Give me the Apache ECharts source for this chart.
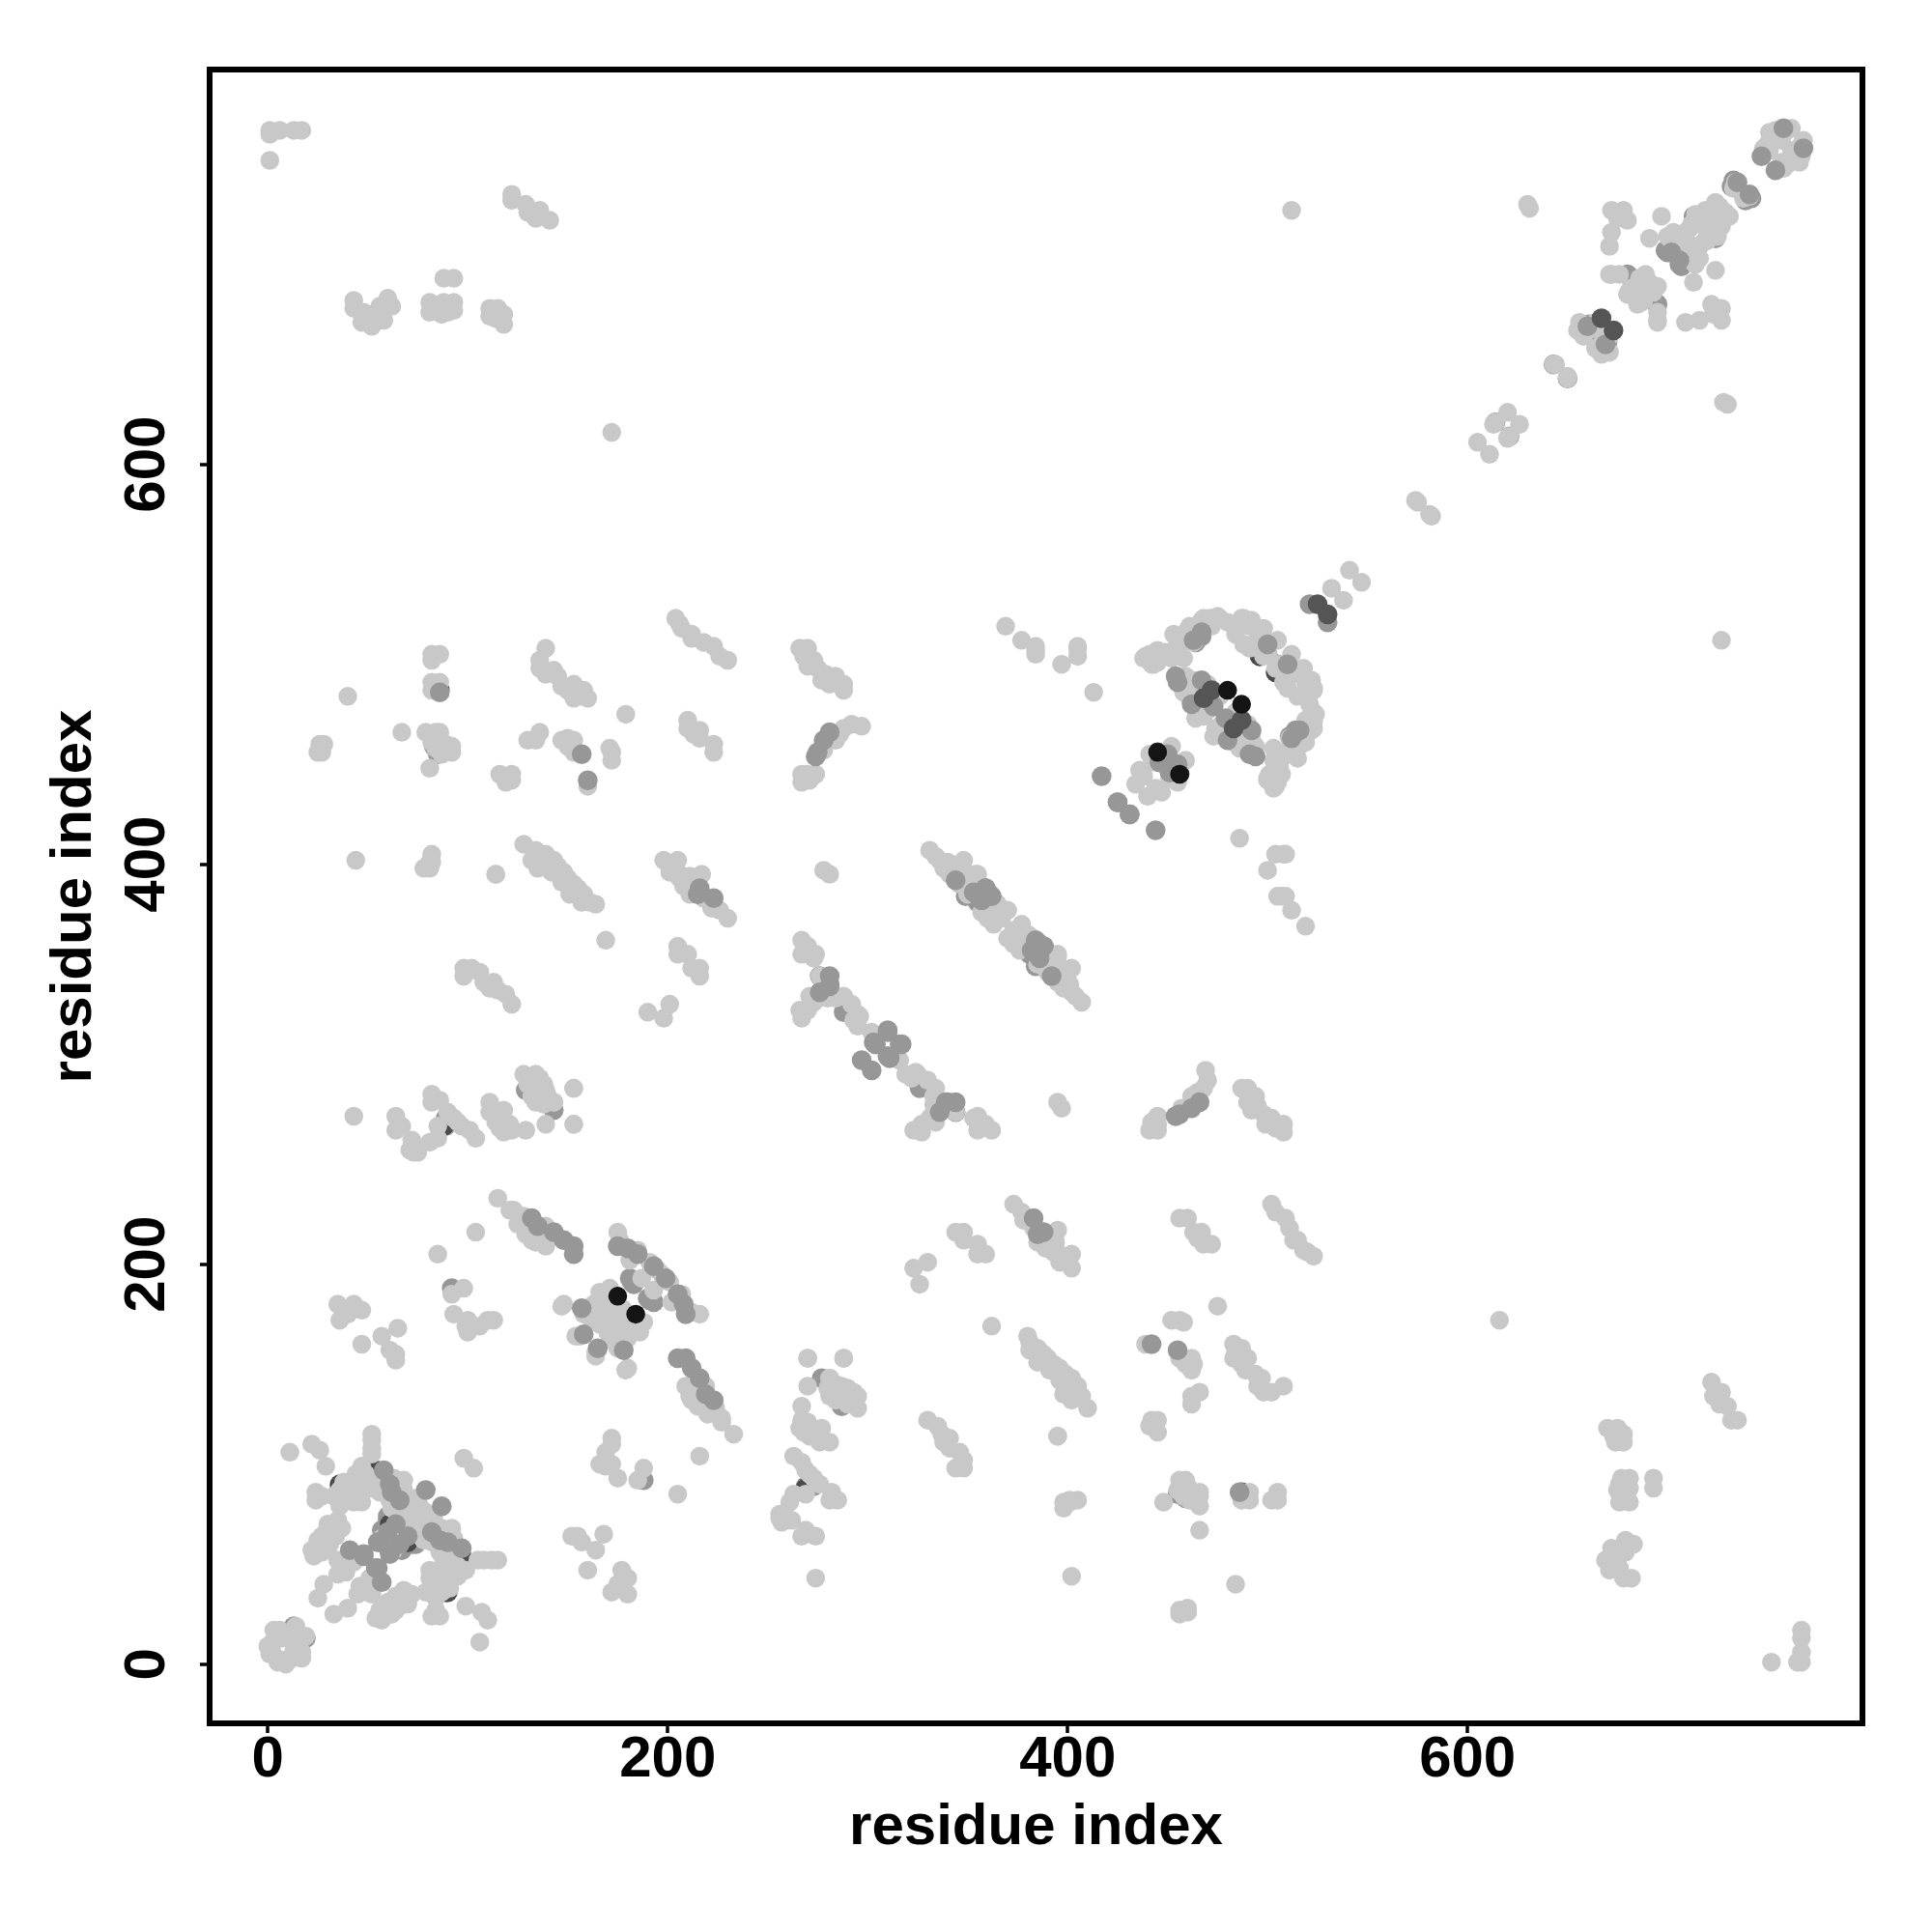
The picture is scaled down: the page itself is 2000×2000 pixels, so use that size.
<!DOCTYPE html>
<html><head><meta charset="utf-8">
<style>html,body{margin:0;padding:0;background:#fff}#c{width:2000px;height:2000px}</style>
<script src="https://cdn.jsdelivr.net/npm/echarts@6/dist/echarts.min.js"></script>
</head><body><div id="c"></div>
<script>
// Residue-residue contacts [i, j] with i < j. A contact map shows each pair at (i,j) and (j,i).
const tickValues = [0, 200, 400, 600];
const xTitle = 'residue index';
const yTitle = 'residue index';

const darkUnder = [[36,90],[36,89],[61,70],[70,81],[54,97],[53,97],[445,456],[496,504],[467,475],[88,269],[86,487]];
const midUnder = [[13,19],[36,85],[37,88],[58,87],[62,84],[66,80],[60,72],[64,74],[57,67],[60,74],[92,188],[88,269],[89,273],[129,287],[138,281],[143,277],[182,191],[183,190],[181,193],
 [83,459],[85,455],[467,516],[463,512],[500,510],[511,464],[514,467],[500,505],[481,470],[466,478],[461,484],
 [521,530],[614,621],[643,650],[680,695],[681,694],[660,666],[661,670],[699,707],[700,706],[714,722],[713,724],[715,723],[732,739],[733,742],
 [341,400],[345,393],[349,384],[355,381],[359,386],[363,381],[381,359],[385,361],[389,357],[394,346],[276,344],[281,340],[288,326],[269,88],[89,269]];
const light = [
 [2,7],[3,17],[14,19],[3,12],[8,14],[0,9],[1,5],[10,15],[6,17],[7,13],
 [11,106],[22,110],[26,107],[29,99],[52,115],[52,112],[52,108],[52,105],[98,103],[24,86],[24,82],[27,84],
 [33,84],[39,82],[45,84],[47,99],[44,94],[47,91],[42,91],[40,86],[44,86],[36,87],[38,91],
 [53,91],[58,86],[61,82],[64,77],[63,93],[68,92],[71,80],[74,83],[76,79],[57,91],[60,88],[66,84],[68,87],[72,76],[70,74],[67,71],[65,73],[62,78],
 [60,66],[57,63],[66,71],[44,95],[49,95],[52,88],[44,87],[43,81],[47,81],[36,79],[40,83],[50,90],[46,90],[56,86],
 [23,54],[24,58],[25,62],[27,64],[29,66],[33,70],[35,72],[22,57],[31,60],[27,56],[34,64],[37,68],[30,70],[32,66],
 [35,45],[39,46],[42,52],[43,51],[37,50],[40,52],[25,33],[28,40],[35,52],
 [1,767],[1,765],[6,767],[13,767],[17,767],[1,752],
 [122,735],[122,732],[129,730],[130,726],[136,727],[136,724],[141,722],[134,723],
 [43,682],[43,678],[60,683],[62,679],[56,679],[47,671],[52,669],[58,672],[52,675],[48,676],[55,674],
 [88,693],[93,693],[81,681],[81,676],[88,681],[93,681],[93,677],[87,675],[90,676],[84,678],
 [111,678],[111,674],[115,678],[118,675],[118,670],[114,673],[172,616],[512,727],
 [630,730],[631,728],
 [672,727],[678,727],[680,722],[675,723],[672,716],[671,709],[697,724],[691,713],
 [672,695],[676,695],[689,695],[682,688],[680,685],[681,687],[686,693],[684,686],[671,695],[690,692],[688,682],
 [656,671],[662,669],[658,664],[664,671],[655,667],[663,668],
 [644,650],[643,650],[620,626],[614,621],[613,620],[605,611],[575,581],[574,582],[541,547],[532,538],
 [701,713],[707,715],[709,716],[700,714],[714,725],[716,720],[718,725],[724,730],[724,731],[716,721],[705,712],[703,716],[711,718],[719,727],[712,720],[721,723],[726,729],[704,709],[709,713],
 [733,738],[734,741],[754,767],[760,767],[762,768],[752,761],[751,766],[751,757],[757,762],[755,763],[750,760],[753,764],[748,758],
 [438,503],[442,500],[445,507],[453,515],[456,509],[461,519],[467,522],[476,523],[487,523],[492,522],[484,515],[488,510],[495,513],[500,505],
 [498,504],[496,513],[491,519],[491,508],[488,523],[475,524],[468,523],[463,511],[460,517],[454,508],[446,504],[443,500],[439,504],[441,505],[445,501],[449,506],[457,513],[465,517],[471,523],[480,521],[498,518],[472,519],[458,503],[466,519],[452,503],[505,512],[444,502],
 [459,494],[458,486],[461,483],[465,478],[468,483],[470,490],[476,484],[472,480],[462,485],[458,488],[462,491],[466,487],[463,492],[468,474],[464,484],[470,477],[459,489],[464,473],
 [441,455],[452,459],[438,444],[434,440],[436,447],[443,451],
 [369,519],[377,512],[384,507],[384,505],[397,500],[405,508],[405,504],[413,486],[405,509],[384,509],
 [266,508],[270,508],[270,499],[275,498],[277,492],[284,494],[288,490],[288,487],[281,490],[273,502],[268,504],[279,495],
 [297,469],[292,470],[288,468],[284,462],[278,457],[286,465],
 [267,445],[274,445],[267,441],[271,442],[270,445],[278,397],[281,395],
 [331,407],[336,402],[340,401],[348,402],[348,397],[354,395],[343,394],[346,390],[364,381],[370,377],[366,375],[363,370],[365,380],[355,395],[350,385],[344,392],[341,395],[359,379],[352,390],[338,398],[357,376],[360,373],[334,404],[367,373],
 [267,362],[270,359],[274,355],[267,355],[273,353],[270,357],
 [276,344],[271,334],[266,327],[267,323],[270,327],[284,333],[292,330],[295,325],[295,319],[268,326],[273,331],[288,334],[280,333],[293,322],[296,324],[274,332],
 [40,484],[67,466],[26,460],[25,456],[27,456],[28,460],
 [82,505],[86,505],[82,502],[82,491],[86,491],[82,487],[84,489],
 [79,466],[84,466],[86,466],[82,461],[92,459],[92,456],[87,455],[81,448],[86,462],[89,460],[84,458],
 [139,508],[136,502],[136,498],[139,495],[145,494],[147,489],[153,490],[153,483],[158,487],[160,483],[150,487],[143,497],[156,484],
 [179,475],[130,462],[136,466],[134,462],[147,462],[151,462],[153,462],[150,459],[153,456],[150,463],
 [116,445],[122,445],[119,441],[122,442],[118,444],[160,439],[171,458],[172,456],[172,452],
 [210,472],[210,468],[216,467],[216,463],[223,460],[223,456],[213,465],
 [204,523],[207,518],[212,515],[218,511],[223,509],[230,502],[226,504],[212,513],[206,520],
 [44,402],[82,405],[78,398],[82,401],[81,398],[114,395],
 [128,410],[134,407],[139,405],[132,402],[135,398],[143,402],[148,396],[142,396],[153,390],[147,391],[158,385],[151,385],[157,381],[164,380],[161,381],[140,401],[145,399],[150,393],[155,388],[137,404],
 [169,362],[198,402],[205,402],[201,396],[211,394],[217,395],[206,393],[226,377],[230,373],[222,378],[211,385],[218,383],[205,396],[208,389],[213,391],[202,400],
 [205,359],[205,355],[210,355],[216,348],[216,344],[212,348],[190,326],[201,330],[198,323],
 [98,348],[102,348],[98,344],[108,341],[113,341],[115,337],[119,335],[122,330],[106,346],[111,338],
 [43,274],[64,274],[64,267],[67,269],[72,262],[73,256],[72,259],[81,261],[85,263],[75,256],[71,257],
 [82,285],[86,282],[93,273],[85,269],[97,269],[101,267],[104,263],[82,281],[90,276],[95,271],
 [111,281],[111,276],[118,277],[114,271],[121,270],[122,267],[129,267],[118,266],[116,268],
 [128,295],[134,295],[130,290],[138,290],[132,284],[139,287],[143,281],[134,281],[153,288],[153,270],[139,270],[136,293],[132,292],[136,286],[140,284],
 [115,233],[121,227],[123,227],[129,215],[132,212],[139,209],[135,214],[140,212],[134,211],[139,219],[125,220],[128,224],
 [104,216],[85,205],[98,188],[92,185],[93,175],[100,172],[100,166],[113,172],[106,169],[110,172],[99,169],
 [35,180],[43,180],[36,172],[47,177],[40,175],[65,168],[57,164],[47,160],[61,157],[64,152],[64,155],
 [148,180],[163,180],[165,177],[171,188],[168,184],[172,179],[170,172],[154,164],[166,170],[158,175],[162,172],[147,179],[174,180],[166,186],[156,164],[169,176],[177,178],
 [175,216],[181,202],[185,207],[187,193],[192,198],[176,212],[183,204],[191,201],[195,197],
 [153,270],[153,288],[143,281],[138,280],
 [114,395],[81,401],
 [302,316]
];
const midTop = [[41,57],[48,54],[55,48],[56,61],[61,55],[64,70],[60,66],[79,87],[58,97],[61,90],[62,86],[66,82],
 [132,223],[135,219],[143,216],[148,212],[153,209],[153,205],[175,209],[180,208],[185,205],[193,199],[158,165],[157,178],[216,388],[223,383],[215,385],
 [157,455],[160,442],[86,486],
 [297,302],[304,310],[310,317],[303,311],[310,304],[316,310],
 [281,466],[278,462],[275,456],[274,454],
 [281,344],[281,339],[276,336],
 [359,388],[353,386],[356,383],[384,362],[388,359],[382,357],[392,344],
 [417,444],[425,431],[431,425],
 [454,494],[455,491],[467,492],[473,479],[462,480],[450,455],[446,451],[451,446],
 [467,516],[463,512],[500,510],
 [660,669],[735,741],[747,754],[758,768],[702,706]];
const darkTop = [[472,487],[525,530],[667,673],[468,483]];
const blackTop = [[175,184],[445,456],[480,487]];

const mirror = pairs => pairs.flatMap(([i, j]) => [[i, j], [j, i]]);
const layer = (name, pairs, color, size) => ({
  name, type: 'scatter', data: mirror(pairs), symbol: 'circle', symbolSize: size,
  itemStyle: { color, opacity: 1 }, silent: true, animation: false
});
const tick = { show: true, length: 10, inside: false, customValues: tickValues, lineStyle: { color: '#000', width: 3.5 } };
const label = { show: true, customValues: tickValues, color: '#000', fontFamily: 'Liberation Sans', fontWeight: 'bold', fontSize: 60 };
const title = { nameLocation: 'middle', nameTextStyle: { color: '#000', fontFamily: 'Liberation Sans', fontWeight: 'bold', fontSize: 60 } };

const chart = echarts.init(document.getElementById('c'), null, { renderer: 'canvas' });
chart.setOption({
  animation: false,
  backgroundColor: '#fff',
  grid: { left: 217, top: 72, width: 1711, height: 1712, show: true, borderColor: '#000', borderWidth: 6, backgroundColor: 'transparent' },
  xAxis: Object.assign({ type: 'value', min: -29.1, max: 797.5, name: xTitle, nameGap: 78, axisLine: { show: false, onZero: false }, splitLine: { show: false }, axisTick: tick, axisLabel: Object.assign({ margin: 8 }, label) }, title),
  yAxis: Object.assign({ type: 'value', min: -29.6, max: 797.4, name: yTitle, nameGap: 110, axisLine: { show: false, onZero: false }, splitLine: { show: false }, axisTick: tick, axisLabel: Object.assign({ rotate: 90, margin: 34 }, label) }, title),
  series: [
    layer('midUnder', midUnder, '#979797', 20.5),
    layer('darkUnder', darkUnder, '#4a4a4a', 20.5),
    layer('light', light, '#c8c8c8', 19.5),
    layer('midTop', midTop, '#979797', 20.5),
    layer('darkTop', darkTop, '#555555', 20.5),
    layer('blackTop', blackTop, '#141414', 19.5)
  ]
});
</script></body></html>
